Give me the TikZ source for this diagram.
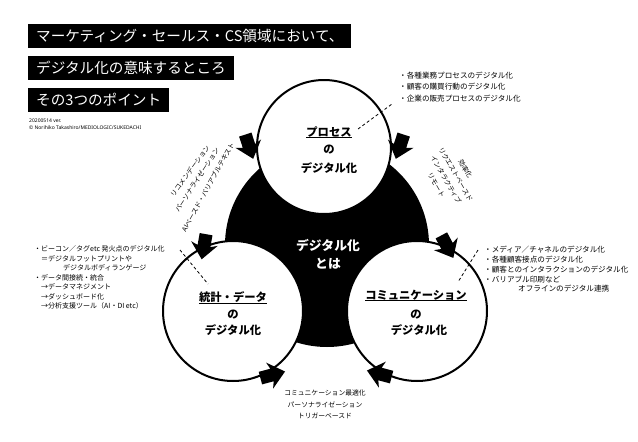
\documentclass[tikz,border=0pt]{standalone}
\usepackage{fontspec}
\newfontfamily\jp{Noto Sans CJK JP}
\newfontfamily\lat{Noto Sans}
\begin{document}
\begin{tikzpicture}[x=1pt,y=-1pt,
  titlebox/.style={fill=black,text=white,font=\jp\fontsize{14.6}{14.6}\selectfont,anchor=west,inner xsep=8pt,inner ysep=0pt,minimum height=24pt},
  smalltxt/.style={anchor=west,inner sep=0pt,font=\lat\fontsize{5}{6}\selectfont},
  listtxt/.style={align=left,anchor=north west,inner sep=0pt},
  ctext/.style={font=\jp\bfseries\fontsize{11.3}{11.3}\selectfont,inner sep=0pt},
  rottxt/.style={font=\jp\fontsize{6.8}{11.2}\selectfont,inner sep=0pt},
  ring/.style={circle,draw=black,fill=white,line width=2pt,inner sep=0pt},
  leader/.style={dash pattern=on 3pt off 2.5pt,line width=0.8pt},
  cyc/.pic={\fill[black] (-12,6.5) -- (0,6.5) -- (-2.5,13.5) -- (13.5,0) -- (-2.5,-13.5) -- (0,-6.5) -- (-12,-6.5) -- cycle;}
]
\useasboundingbox[fill=white] (0,0) rectangle (638,442);

% titles
\node[titlebox] (t1) at (28,36) {マーケティング・セールス・CS領域において、};
\node[titlebox] (t2) at (28,68) {デジタル化の意味するところ};
\node[titlebox] (t3) at (28,100) {その3つのポイント};
\node[smalltxt] (d1) at (29,121) {20200514 ver.};
\node[smalltxt] (d2) at (29,128) {© Norihiko Takashiro/MEDIOLOGIC/SUKEDACHI};

% circles
\node[circle,fill=black,inner sep=0pt,minimum size=204pt] (core) at (327,245) {};
\node[ring,minimum size=134pt] (top) at (324,147) {};
\node[ring,minimum size=140pt] (left) at (233,311) {};
\node[ring,minimum size=140pt] (right) at (417,311) {};

% arrows on the rings
\pic[rotate=-72] at (249,146) {cyc};
\pic[rotate=-108] at (400,146) {cyc};
\pic[rotate=-100] at (204,246) {cyc};
\pic[rotate=-62] at (447,246) {cyc};
\pic[rotate=15] at (272,375) {cyc};
\pic[rotate=165] at (380,374) {cyc};

% circle texts
\node[ctext] (p1) at (329,132) {プロセス};
\node[ctext] (p2) at (329,150) {の};
\node[ctext] (p3) at (329,168) {デジタル化};
\draw[line width=1pt] ([yshift=-0.5pt]p1.south west) -- ([yshift=-0.5pt]p1.south east);

\node[ctext] (l1) at (233,297) {統計・データ};
\node[ctext] (l2) at (233,315) {の};
\node[ctext] (l3) at (233,330) {デジタル化};
\draw[line width=1pt] ([yshift=-0.5pt]l1.south west) -- ([yshift=-0.5pt]l1.south east);

\node[ctext] (c1) at (416,295) {コミュニケーション};
\node[ctext] (c2) at (416,315) {の};
\node[ctext] (c3) at (419,330) {デジタル化};
\draw[line width=1pt] ([yshift=-0.5pt]c1.south west) -- ([yshift=-0.5pt]c1.south east);

\node[font=\jp\bfseries\fontsize{12.8}{18}\selectfont,text=white,align=center,inner sep=0pt] (ct) at (328,254) {デジタル化\\とは};

% lists
\node[listtxt,font=\jp\fontsize{7.6}{11.5}\selectfont] (tl) at (399,71.4) {・各種業務プロセスのデジタル化\\・顧客の購買行動のデジタル化\\・企業の販売プロセスのデジタル化};
\node[listtxt,font=\jp\fontsize{7}{9.5}\selectfont] (ll) at (34,245.7) {・ビーコン／タグetc 発火点のデジタル化\\\hspace*{7pt}＝デジタルフットプリントや\\\hspace*{29pt}デジタルボディランゲージ\\・データ間接続・統合\\\hspace*{7pt}→データマネジメント\\\hspace*{7pt}→ダッシュボード化\\\hspace*{7pt}→分析支援ツール（AI・DI etc）};
\node[listtxt,font=\jp\fontsize{7.6}{9.8}\selectfont] (rl) at (484,246) {・メディア／チャネルのデジタル化\\・各種顧客接点のデジタル化\\・顧客とのインタラクションのデジタル化\\・バリアブル印刷など\\\hspace*{34pt}オフラインのデジタル連携};
\node[align=center,anchor=north,inner sep=0pt,font=\jp\fontsize{6.8}{11.5}\selectfont] (bl) at (325,389.7) {コミュニケーション最適化\\パーソナライゼーション\\トリガーベースド};

% rotated labels
\node[rottxt,rotate=54] (r1) at (190,171) {リコメンデーション};
\node[rottxt,rotate=57] (r2) at (197,180) {パーソナライゼーション};
\node[rottxt,rotate=61] (r3) at (208,187) {AIベースド・バリアブルテキスト};
\node[rottxt,rotate=-60,align=center] (rr) at (451,177) {効率化\\リクエストベースド\\インタラクティブ\\リモート};

% dashed leaders
\coordinate (tpA) at (358,129);
\coordinate (tpB) at (392,104);
\draw[leader] (tpA) -- (tpB);
\coordinate (lfA) at (180,250);
\coordinate (lfB) at (208,284);
\draw[leader] (lfA) -- (lfB);
\coordinate (rtA) at (478,250);
\coordinate (rtB) at (458,282);
\draw[leader] (rtA) -- (rtB);
\end{tikzpicture}
\end{document}
